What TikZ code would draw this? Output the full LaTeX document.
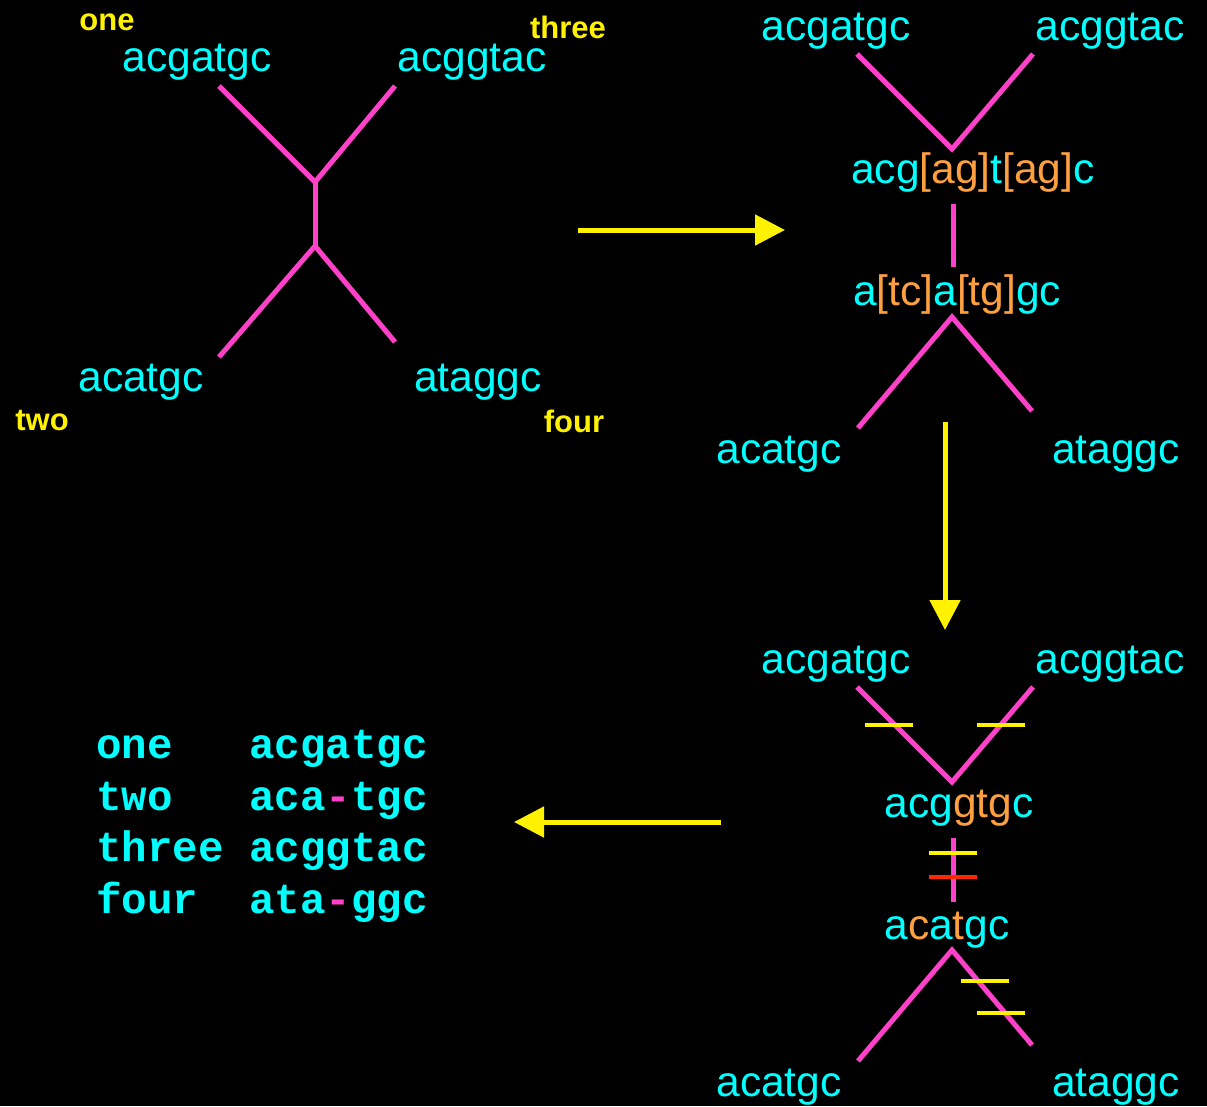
\documentclass[tikz,border=0pt]{standalone}
\usepackage{fontspec}
\setmainfont{Liberation Sans}
\setmonofont{Liberation Mono}
\usepackage{tikz}
\usetikzlibrary{arrows.meta}

\definecolor{seqcyan}{RGB}{0,255,255}
\definecolor{branchpink}{RGB}{255,64,200}
\definecolor{ambig}{RGB}{255,160,64}
\definecolor{subred}{RGB}{255,40,0}
\newcommand{\amb}[1]{\textcolor{ambig}{#1}}

\begin{document}
\begin{tikzpicture}[x=1pt,y=-1pt,
		seq/.style={text=seqcyan,inner sep=0pt,font=\fontsize{42.5}{50}\selectfont},
		tag/.style={text=yellow,inner sep=0pt,font=\fontsize{31}{36}\selectfont\bfseries},
		row/.style={text=seqcyan,inner sep=0pt,anchor=base west,font=\fontsize{42.5}{50}\selectfont\ttfamily\bfseries},
		branch/.style={draw=branchpink,line width=5pt},
		tick/.style={draw=yellow,line width=4pt},
		flow/.style={draw=yellow,line width=5pt,-{Triangle[length=30pt,width=30pt]}}
		]
		%Background
		\fill[black] (0,0) rectangle (1207,1106);
		%Draw unrooted tree
		\path (107,22) node[tag] (one) {one}
		(197,62) node[seq] (s1) {acgatgc}
		(568,27) node[tag] (three) {three}
		(472,62) node[seq] (s3) {acggtac}
		(141,382) node[seq] (s2) {acatgc}
		(42,421) node[tag] (two) {two}
		(478,382) node[seq] (s4) {ataggc}
		(574,421) node[tag] (four) {four};
		\path (315,182) coordinate (u1)
		(315,246) coordinate (u2)
		(219,86) coordinate (e1)
		(395,86) coordinate (e3)
		(219,357) coordinate (e2)
		(395,342) coordinate (e4);
		\draw[branch] (e1) -- (u1) -- (e3);
		\draw[branch] (u1) -- (u2);
		\draw[branch] (e2) -- (u2) -- (e4);
		\path (578,230) coordinate (a1s) (785,230) coordinate (a1e);
		\draw[flow] (a1s) -- (a1e);
		%Draw ambiguous ancestors
		\path (836,31) node[seq] (p1) {acgatgc}
		(1110,31) node[seq] (p3) {acggtac}
		(973,173) node[seq] (pa) {acg\amb{[ag]}t\amb{[ag]}c}
		(957,295) node[seq] (pb) {a\amb{[tc]}a\amb{[tg]}gc}
		(779,454) node[seq] (p2) {acatgc}
		(1116,454) node[seq] (p4) {ataggc};
		\path (857,54) coordinate (f1)
		(1033,54) coordinate (f3)
		(952,149) coordinate (v1)
		(953,204) coordinate (v1b)
		(953,267) coordinate (v2b)
		(952,317) coordinate (v2)
		(858,428) coordinate (f2)
		(1032,411) coordinate (f4);
		\draw[branch] (f1) -- (v1) -- (f3);
		\draw[branch] (v1b) -- (v2b);
		\draw[branch] (f2) -- (v2) -- (f4);
		\path (945,422) coordinate (a2s) (945,630) coordinate (a2e);
		\draw[flow] (a2s) -- (a2e);
		%Draw resolved ancestors with changes
		\path (836,664) node[seq] (q1) {acgatgc}
		(1110,664) node[seq] (q3) {acggtac}
		(959,808) node[seq] (qa) {acg\amb{gtg}c}
		(947,930) node[seq] (qb) {a\amb{c}a\amb{t}gc}
		(779,1087) node[seq] (q2) {acatgc}
		(1116,1087) node[seq] (q4) {ataggc};
		\path (857,687) coordinate (g1)
		(1033,687) coordinate (g3)
		(952,782) coordinate (w1)
		(953,838) coordinate (w1b)
		(953,902) coordinate (w2b)
		(952,950) coordinate (w2)
		(858,1061) coordinate (g2)
		(1032,1045) coordinate (g4);
		\draw[branch] (g1) -- (w1) -- (g3);
		\draw[branch] (w1b) -- (w2b);
		\draw[branch] (g2) -- (w2) -- (g4);
		\draw[tick] (865,725) -- (913,725);
		\draw[tick] (977,725) -- (1025,725);
		\draw[tick] (929,853) -- (977,853);
		\draw[tick,draw=subred] (929,877) -- (977,877);
		\draw[tick] (961,981) -- (1009,981);
		\draw[tick] (977,1013) -- (1025,1013);
		\path (721,822) coordinate (a3s) (514,822) coordinate (a3e);
		\draw[flow] (a3s) -- (a3e);
		%Draw alignment
		\path (96,758) node[row] (r1) {one\ \ \ acgatgc}
		(96,810) node[row] (r2) {two\ \ \ aca\textcolor{branchpink}{-}tgc}
		(96,861) node[row] (r3) {three\ acggtac}
		(96,913) node[row] (r4) {four\ \ ata\textcolor{branchpink}{-}ggc};
	\end{tikzpicture}
\end{document}
